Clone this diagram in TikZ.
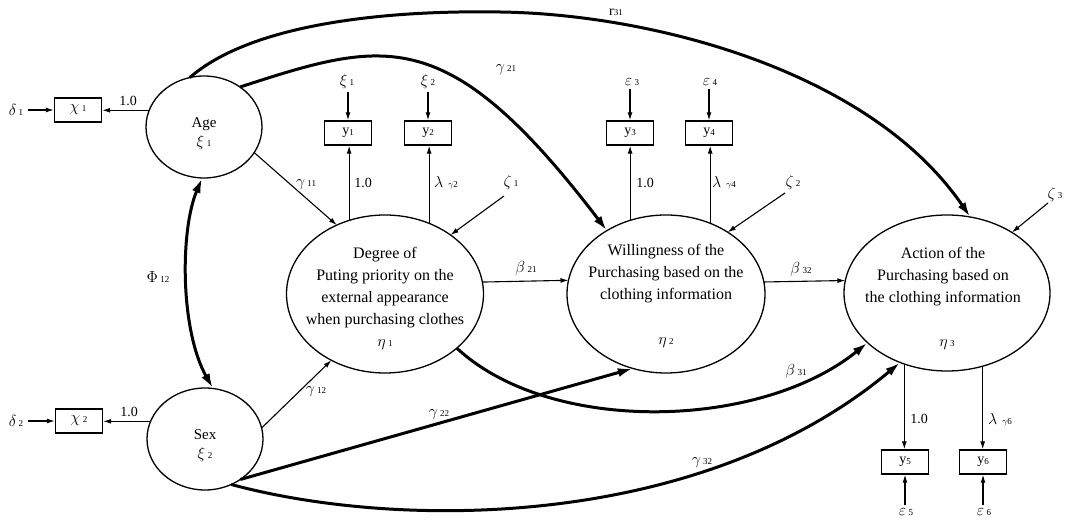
\RequirePackage{fix-cm}
\documentclass[tikz,border=0pt]{standalone}
\usepackage{fontspec}
\setmainfont{Liberation Serif}
\usetikzlibrary{shapes.geometric,arrows.meta}
\newcommand\gs[2]{{\fontsize{16}{16}\selectfont$#1$}\,{\fontsize{9}{10}\selectfont #2}}
\newcommand\ys[1]{y{\fontsize{9}{10}\selectfont\raisebox{-1pt}{#1}}}
\begin{document}
\begin{tikzpicture}[x=1pt,y=-1pt,
 lat/.style={ellipse,draw,line width=1.3pt,inner sep=0pt,outer sep=0pt},
 obs/.style={rectangle,draw,line width=1.4pt,minimum width=47pt,minimum height=24pt,inner sep=0pt,font=\fontsize{14}{16}\selectfont},
 lbl/.style={inner sep=1pt,font=\fontsize{14}{16}\selectfont},
 big/.style={align=center,font=\fontsize{16}{22}\selectfont,inner sep=0pt},
 tarrow/.style={line width=1.1pt,-{Latex[length=8pt,width=5pt]}},
 barrow/.style={line width=3pt,-{Latex[length=15pt,width=9pt]}},
 dbarrow/.style={line width=3pt,{Latex[length=15pt,width=9pt]}-{Latex[length=15pt,width=9pt]}},
]
\useasboundingbox (0,0) rectangle (1071,521);

% latent variables
\node[lat,minimum width=116pt,minimum height=102pt] (age) at (204,127) {};
\node[lat,minimum width=116pt,minimum height=102pt] (sex) at (205,439) {};
\node[lat,minimum width=197pt,minimum height=158pt] (eta1) at (385,294) {};
\node[lat,minimum width=198pt,minimum height=158pt] (eta2) at (666,294) {};
\node[lat,minimum width=206pt,minimum height=156pt] (eta3) at (947,293) {};

\node[big,font=\fontsize{15}{18}\selectfont] (agetxt) at (204,124) {Age};
\node[big] (agexi) at (204,143) {\gs{\xi}{1}};
\node[big,font=\fontsize{15}{18}\selectfont] (sextxt) at (205,435) {Sex};
\node[big] (sexxi) at (205,454) {\gs{\xi}{2}};
\node[big] (t1) at (385,288) {Degree of\\Puting priority on the\\external appearance\\when purchasing clothes};
\node[big] (n1) at (385,345) {\gs{\eta}{1}};
\node[big] (t2) at (666,274) {Willingness of the\\Purchasing based on the\\clothing information};
\node[big] (n2) at (666,343) {\gs{\eta}{2}};
\node[big] (t3) at (943,277) {Action of the\\Purchasing based on\\the clothing information};
\node[big] (n3) at (947,345) {\gs{\eta}{3}};

% observed variables
\node[obs] (x1) at (78,110) {\gs{\chi}{1}};
\node[obs] (x2) at (79,421) {\gs{\chi}{2}};
\node[obs] (y1) at (348,133) {\ys{1}};
\node[obs] (y2) at (428,133) {\ys{2}};
\node[obs] (y3) at (630,133) {\ys{3}};
\node[obs] (y4) at (709,133) {\ys{4}};
\node[obs] (y5) at (905,462) {\ys{5}};
\node[obs] (y6) at (983,462) {\ys{6}};

% error terms
\node[lbl] (d1) at (16,110) {\gs{\delta}{1}};
\node[lbl] (d2) at (16,421) {\gs{\delta}{2}};
\node[lbl] (e1) at (347,82) {\gs{\xi}{1}};
\node[lbl] (e2) at (428,82) {\gs{\xi}{2}};
\node[lbl] (e3) at (632,82) {\gs{\varepsilon}{3}};
\node[lbl] (e4) at (710,82) {\gs{\varepsilon}{4}};
\node[lbl] (e5) at (906,512) {\gs{\varepsilon}{5}};
\node[lbl] (e6) at (984,512) {\gs{\varepsilon}{6}};
\node[lbl] (z1) at (511,183) {\gs{\zeta}{1}};
\node[lbl] (z2) at (793,183) {\gs{\zeta}{2}};
\node[lbl] (z3) at (1055,195) {\gs{\zeta}{3}};
\coordinate (z1s) at (504,196);
\coordinate (z2s) at (785,193);
\coordinate (z3s) at (1048,203);

% coefficient labels
\node[lbl] (l11) at (128,101) {1.0};
\node[lbl] (l21) at (129,412) {1.0};
\node[lbl] (ly1) at (363,183) {1.0};
\node[lbl] (ly2) at (446,183) {{\fontsize{16}{16}\selectfont$\lambda$}\,\,{\fontsize{9}{10}\selectfont$\gamma$2}};
\node[lbl] (ly3) at (645,183) {1.0};
\node[lbl] (ly4) at (724,183) {{\fontsize{16}{16}\selectfont$\lambda$}\,\,{\fontsize{9}{10}\selectfont$\gamma$4}};
\node[lbl] (ly5) at (919,419) {1.0};
\node[lbl] (ly6) at (1000,420) {{\fontsize{16}{16}\selectfont$\lambda$}\,\,{\fontsize{9}{10}\selectfont$\gamma$6}};
\node[lbl] (g11) at (306,185) {\gs{\gamma}{11}};
\node[lbl] (g12) at (316,392) {\gs{\gamma}{12}};
\node[lbl] (g21) at (506,70) {\gs{\gamma}{21}};
\node[lbl] (g22) at (439,415) {\gs{\gamma}{22}};
\node[lbl] (g32) at (702,463) {\gs{\gamma}{32}};
\node[lbl] (b21) at (526,269) {\gs{\beta}{21}};
\node[lbl] (b32) at (801,270) {\gs{\beta}{32}};
\node[lbl] (b31) at (796,371) {\gs{\beta}{31}};
\node[lbl] (r31) at (616,12) {r{\fontsize{9}{10}\selectfont 31}};
\node[lbl] (phi) at (158,277) {\gs{\Phi}{12}};

% thin arrows
\draw[tarrow] (d1.east) ++(4,0) -- (x1.west);
\draw[tarrow] (d2.east) ++(4,0) -- (x2.west);
\draw[tarrow] (age.163.7) -- (age.163.7 -| x1.east);
\draw[tarrow] (sex.162.5) -- (sex.162.5 -| x2.east);
\draw[tarrow] (age.-27.9) -- (eta1.125.8);
\draw[tarrow] (sex.11.7) -- (eta1.231.1);
\draw[tarrow] (eta1.116.8) -- (eta1.116.8 |- y1.south);
\draw[tarrow] (eta1.58.8) -- (eta1.58.8 |- y2.south);
\draw[tarrow] (eta2.116.1) -- (eta2.116.1 |- y3.south);
\draw[tarrow] (eta2.58.9) -- (eta2.58.9 |- y4.south);
\draw[tarrow] (eta3.239.5) -- (eta3.239.5 |- y5.north);
\draw[tarrow] (eta3.296.2) -- (eta3.296.2 |- y6.north);
\draw[tarrow] (eta1.7.5) -- (eta2.172.8);
\draw[tarrow] (eta2.7.5) -- (eta3.173.6);
\draw[tarrow] (y1.north |- e1.south) ++(0,2) -- (y1.north);
\draw[tarrow] (y2.north |- e2.south) ++(0,2) -- (y2.north);
\draw[tarrow] (y3.north |- e3.south) ++(0,2) -- (y3.north);
\draw[tarrow] (y4.north |- e4.south) ++(0,2) -- (y4.north);
\draw[tarrow] (y5.south |- e5.north) ++(0,-2) -- (y5.south);
\draw[tarrow] (y6.south |- e6.north) ++(0,-2) -- (y6.south);
\draw[tarrow] (z1s) -- (eta1.42);
\draw[tarrow] (z2s) -- (eta2.45.5);
\draw[tarrow] (z3s) -- (eta3.43.2);

% thick arrows
\draw[barrow] (age.106.6) .. controls (250,25) and (380,10) .. (500,12)
  .. controls (650,14) and (870,70) .. (eta3.73.6);
\draw[barrow] (age.48.5) .. controls (385,40) and (447,21) .. (eta2.133.7);
\draw[barrow] (eta1.-37.9) .. controls (550,435) and (760,430) .. (eta3.212.3);
\draw[barrow] (sex.-49.5) -- (eta2.246.2);
\draw[barrow] (sex.-60) .. controls (400,530) and (700,530) .. (eta3.236.1);
\draw[dbarrow] (age.268) .. controls (180,230) and (180,330) .. (sex.81);
\end{tikzpicture}
\end{document}
